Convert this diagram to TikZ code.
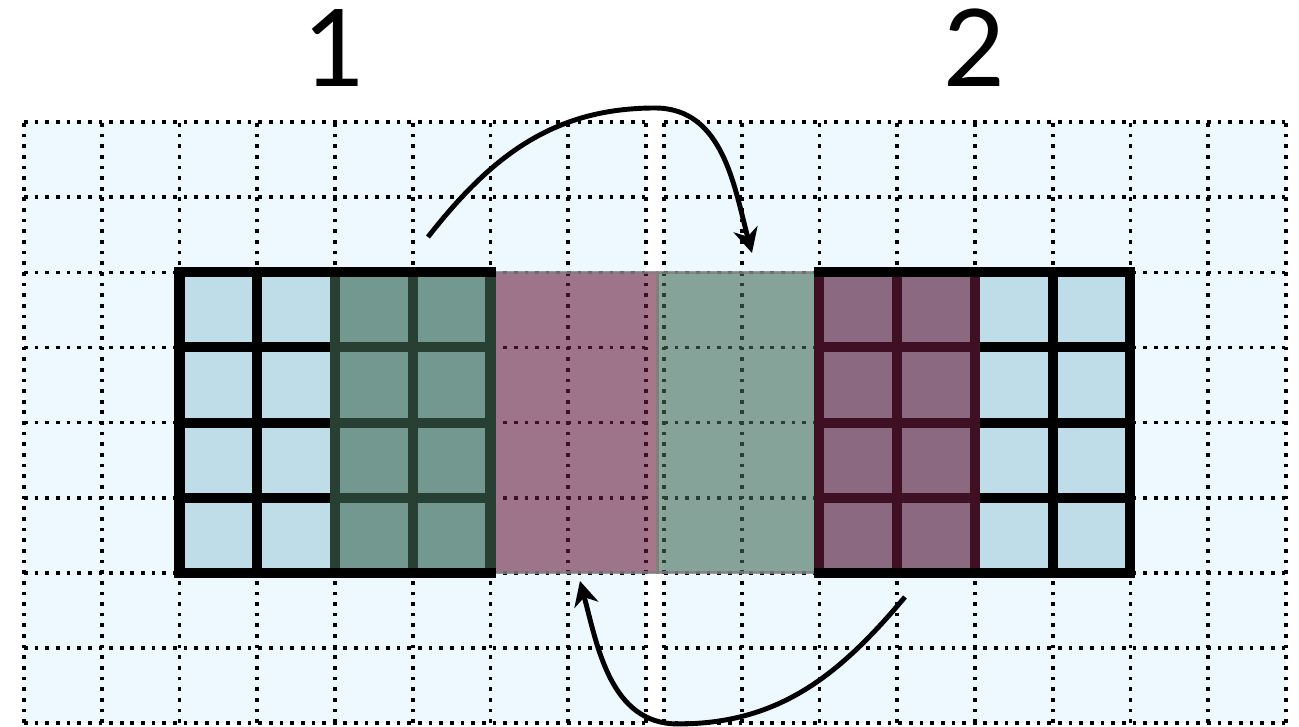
\documentclass[tikz,border=0pt]{standalone}
\usepackage{fontspec}
\setsansfont{Lato}
\usepackage{tikz}
\usetikzlibrary{arrows.meta}

\definecolor{cellbg}{RGB}{238,248,255}
\definecolor{innerblue}{RGB}{190,221,232}
\definecolor{sendgreen}{RGB}{66,107,85}
\definecolor{sendred}{RGB}{106,28,60}

\begin{document}
\begin{tikzpicture}[
  x=7.775mm, y=7.51mm,
  halfbg/.style={fill=cellbg},
  gridline/.style={line width=1.05pt, dash pattern=on 1.05pt off 1.98pt},
  boxline/.style={line width=2.85pt},
  ghost/.style={fill opacity=0.6, draw=gray, draw opacity=0.8, line width=0.8pt},
  owned/.style={fill opacity=0.6},
  flow/.style={-{Stealth[length=7pt,width=7pt,inset=2.2pt]}, line width=1.4pt},
  rank/.style={font=\sffamily\fontsize{30.5}{30.5}\selectfont, anchor=base, inner sep=0pt},
]
\def\gap{8.2315}

\useasboundingbox (-0.3087,-0.0533) rectangle (16.399,9.627);

% ── Two halves: background and dotted cells ─────────────────────────
\foreach \ox in {0,\gap} {
  \fill[halfbg] (\ox,0) rectangle ++(8,8);
  \foreach \i in {0,...,8} {
    \draw[gridline] ({\ox+\i},0) -- ({\ox+\i},8);
    \draw[gridline] (\ox,\i) -- ({\ox+8},\i);
  }
}

% ── Ghost columns ───────────────────────────────────────────────────
\filldraw[ghost, fill=sendred] (6,2) rectangle (8.15,6);
\filldraw[ghost, fill=sendgreen] (8.15,2) rectangle ({\gap+2},6);

% ── Boxed blocks ────────────────────────────────────────────────────
\foreach \ox in {0,\gap} {
  \fill[innerblue] ({\ox+2},2) rectangle ({\ox+6},6);
  \foreach \i in {3,4,5} {
    \draw[boxline] ({\ox+\i},2) -- ({\ox+\i},6);
    \draw[boxline] ({\ox+2},\i) -- ({\ox+6},\i);
  }
  \draw[boxline] ({\ox+2},2) rectangle ({\ox+6},6);
}

% ── Columns that get sent ───────────────────────────────────────────
\fill[owned, sendgreen] (3.935,2.066) rectangle (6.065,5.934);
\fill[owned, sendred] ({\gap+1.935},2.066) rectangle ({\gap+4.065},5.934);

% ── Exchange arrows ─────────────────────────────────────────────────
\coordinate (sendl) at (5.196,6.471);
\coordinate (topl)  at (8.116,8.189);
\coordinate (recvr) at (9.363,6.258);
\coordinate (sendr) at (11.331,1.678);
\coordinate (botr)  at (8.41,-0.013);
\coordinate (recvl) at (7.151,1.891);

\draw[flow] (sendl) to[out=52,in=180] (topl) to[out=0,in=105] (recvr);
\draw[flow] (sendr) to[out=230,in=0] (botr) to[out=180,in=-75] (recvl);

% ── Labels ──────────────────────────────────────────────────────────
\node[rank] (lblone) at (4,8.469) {1};
\node[rank] (lbltwo) at ({\gap+4},8.469) {2};

\end{tikzpicture}
\end{document}
